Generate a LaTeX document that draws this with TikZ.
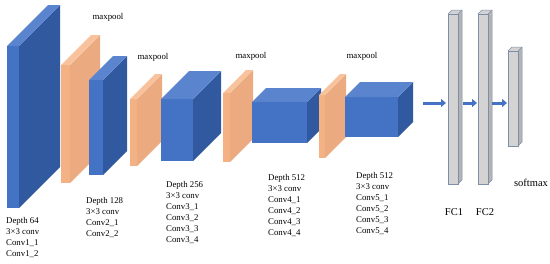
\documentclass[tikz,border=0pt]{standalone}
\usepackage{fontspec}
\setmainfont{Liberation Serif}
\usepackage{tikz}
\usepackage{xcolor}
\usetikzlibrary{arrows.meta}
\usetikzlibrary{positioning}
\definecolor{blueFront}{HTML}{4472C4}
\definecolor{blueSide}{HTML}{30599F}
\definecolor{blueTop}{HTML}{5A84CE}
\definecolor{peachFront}{HTML}{F4B183}
\definecolor{peachSide}{HTML}{EBAA80}
\definecolor{peachTop}{HTML}{F7C29C}
\definecolor{grayFront}{HTML}{D3D3D3}
\definecolor{graySide}{HTML}{B4B4B4}
\definecolor{grayLine}{HTML}{7E8EA8}
\def\blueFront{blueFront}
\def\peachFront{peachFront}

% layer : name, x, y, width, height, depth, front, side, top
\newcommand{\layer}[9]{%
  \node[face, fill=#7, minimum width=#4pt, minimum height=#5pt] (#1) at (#2,#3) {};
  \fill[#8] (#1.north east) -- ++(#6,-#6) -- ++(0,#5) -- (#1.south east) -- cycle;
  \fill[#9] (#1.north west) -- ++(#6,-#6) -- ++(#4,0) -- (#1.north east) -- cycle;
}

\begin{document}
\begin{tikzpicture}[x=1pt, y=-1pt,
  face/.style={draw=none, inner sep=0pt, outer sep=0pt, anchor=north west},
  lbl/.style={font=\fontsize{8.8pt}{11pt}\selectfont, inner sep=0pt},
  info/.style={lbl, anchor=north west, align=left},
  big/.style={font=\fontsize{10.5pt}{12pt}\selectfont, inner sep=0pt},
  arr/.style={\blueFront, line width=3pt, -{Triangle[length=5pt, width=8pt]}}]

  \useasboundingbox (0,0) rectangle (550,263);

  % Conv blocks and pooling
  \layer{conv1}{7}{46}{12}{162}{41}{blueFront}{blueSide}{blueTop}
  \layer{pool1}{61}{65}{9}{118}{30}{peachFront}{peachSide}{peachTop}
  \layer{conv2}{89}{80}{14}{95}{24}{blueFront}{blueSide}{blueTop}
  \layer{pool2}{130}{99}{7}{67}{25}{peachFront}{peachSide}{peachTop}
  \layer{conv3}{161}{99}{32}{62}{28}{blueFront}{blueSide}{blueTop}
  \layer{pool3}{223}{93}{7}{69}{23}{peachFront}{peachSide}{peachTop}
  \layer{conv4}{252}{102}{55}{41}{14}{blueFront}{blueSide}{blueTop}
  \layer{pool4}{319}{95}{6}{63}{21}{peachFront}{peachSide}{peachTop}
  \layer{conv5}{345}{97}{53}{40}{15}{blueFront}{blueSide}{blueTop}

  % Fully connected
  \layer{fc1}{448}{14}{10}{170}{4}{grayFront}{graySide}{grayFront}
  \layer{fc2}{478}{14}{10}{170}{4}{grayFront}{graySide}{grayFront}
  \layer{smax}{508}{51}{10}{95}{4}{grayFront}{graySide}{grayFront}
  \foreach \b in {fc1, fc2, smax} {
    \draw[grayLine, line width=0.5pt] (\b.north west) rectangle (\b.south east);
    \draw[grayLine, line width=0.5pt] (\b.north west) -- ++(4,-4) -- ++(10,0) -- ([xshift=4pt, yshift=4pt]\b.south east) -- (\b.south east);
    \draw[grayLine, line width=0.5pt] (\b.north east) -- ++(4,-4);
  }

  % arrows
  \draw[arr] ([xshift=25pt, yshift=14pt]conv5.east) -- ([xshift=-2pt, yshift=-4pt]fc1.west);
  \draw[arr] ([xshift=5pt, yshift=-4pt]fc1.east) -- ([xshift=-1pt, yshift=-4pt]fc2.west);
  \draw[arr] ([xshift=4pt, yshift=-4pt]fc2.east) -- ([xshift=-1pt, yshift=-4.5pt]smax.west);

  % maxpool labels
  \node[lbl] (mp1) at (108,17) {maxpool};
  \node[lbl] (mp2) at (153,57) {maxpool};
  \node[lbl] (mp3) at (251,56) {maxpool};
  \node[lbl] (mp4) at (362,56) {maxpool};

  % texts
  \node[info] (txt1) at (6,217) {Depth 64\\3×3 conv\\Conv1\_1\\Conv1\_2};
  \node[info] (txt2) at (86,197) {Depth 128\\3×3 conv\\Conv2\_1\\Conv2\_2};
  \node[info] (txt3) at (166,181) {Depth 256\\3×3 conv\\Conv3\_1\\Conv3\_2\\Conv3\_3\\Conv3\_4};
  \node[info] (txt4) at (268,174) {Depth 512\\3×3 conv\\Conv4\_1\\Conv4\_2\\Conv4\_3\\Conv4\_4};
  \node[info] (txt5) at (356,172) {Depth 512\\3×3 conv\\Conv5\_1\\Conv5\_2\\Conv5\_3\\Conv5\_4};

  \node[big] (fc1lbl) at (454,212) {FC1};
  \node[big] (fc2lbl) at (485,212) {FC2};
  \node[big] (smlbl) at (531,183) {softmax};

\end{tikzpicture}
\end{document}
